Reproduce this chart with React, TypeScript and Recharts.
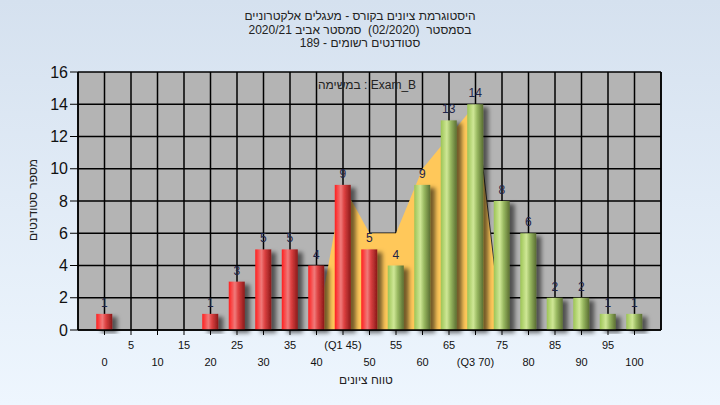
import React from "react";
import { ComposedChart, Bar, Area, XAxis, YAxis, CartesianGrid, LabelList } from "recharts";

const grades = [0, 5, 10, 15, 20, 25, 30, 35, 40, 45, 50, 55, 60, 65, 70, 75, 80, 85, 90, 95, 100];
const counts = [1, 0, 0, 0, 1, 3, 5, 5, 4, 9, 5, 4, 9, 13, 14, 8, 6, 2, 2, 1, 1];
const iqrOutline = [null, null, null, null, null, null, null, null, 0, 9, 6, 6, 10, 12, 14, 0, null, null, null, null, null];
const iqrEdge = [null, null, null, null, null, null, null, null, null, null, null, null, null, null, 14, 0, null, null, null, null, null];
const xTickLabels = ["0", "5", "10", "15", "20", "25", "30", "35", "40", "(Q1 45)", "50", "55", "60", "65", "(Q3 70)", "75", "80", "85", "90", "95", "100"];
const yTicks = [0, 2, 4, 6, 8, 10, 12, 14, 16];
const titleLines = [
  "היסטוגרמת ציונים בקורס - מעגלים אלקטרוניים",
  "בסמסטר  (02/2020)  סמסטר אביב 2020/21",
  "סטודנטים רשומים - 189",
];
const taskLabel = "במשימה : Exam_B";
const xAxisTitle = "טווח ציונים";
const yAxisTitle = "מספר סטודנטים";

const data = grades.map((g, i) => ({ grade: g, count: counts[i], outline: iqrOutline[i], edge: iqrEdge[i] }));

const FONT = "'Liberation Sans', Arial, sans-serif";

const XTick = (props: any) => {
  const { x, y, payload } = props;
  const idx = grades.indexOf(payload.value);
  const upper = idx % 2 === 1;
  return (
    <text x={x} y={y + (upper ? 12 : 29)} textAnchor="middle" fontSize={11} fill="#111" fontFamily={FONT}>
      {xTickLabels[idx]}
    </text>
  );
};

const BarShape = (props: any) => {
  const { x, y, width, height, payload } = props;
  if (!height || height <= 0) return null;
  const grad = payload.grade <= 50 ? "url(#redG)" : "url(#greenG)";
  return <rect x={x} y={y} width={width} height={height} fill={grad} filter="url(#barShadow)" />;
};

export default function App() {
  return (
    <div
      style={{
        position: "fixed",
        left: 0,
        top: 0,
        width: 720,
        height: 405,
        background: "linear-gradient(#d5e1ef, #eef6fe)",
        fontFamily: FONT,
      }}
    >
      <div style={{ position: "absolute", left: 0, top: 10, width: 720, textAlign: "center", fontSize: 12, lineHeight: "13.5px", color: "#222" }}>
        {titleLines.map((t, i) => (
          <div key={i} dir="rtl" style={{ whiteSpace: "pre" }}>{t}</div>
        ))}
      </div>
      <ComposedChart width={720} height={405} data={data} margin={{ top: 72, right: 0, bottom: 0, left: 0 }}>
        <defs>
          <linearGradient id="redG" x1="0" y1="0" x2="1" y2="0">
            <stop offset="0%" stopColor="#ff1e1e" />
            <stop offset="38%" stopColor="#f07a7a" />
            <stop offset="60%" stopColor="#dc4040" />
            <stop offset="100%" stopColor="#8a1a1a" />
          </linearGradient>
          <linearGradient id="greenG" x1="0" y1="0" x2="1" y2="0">
            <stop offset="0%" stopColor="#9cc455" />
            <stop offset="38%" stopColor="#cfe796" />
            <stop offset="62%" stopColor="#98b860" />
            <stop offset="100%" stopColor="#5a6e32" />
          </linearGradient>
          <filter id="barShadow" x="-50%" y="-20%" width="220%" height="140%">
            <feDropShadow dx="5" dy="3" stdDeviation="2" floodColor="#000" floodOpacity="0.55" />
          </filter>
        </defs>
        <CartesianGrid yAxisId="l" stroke="#000" strokeWidth={1.5} fill="#b4b4b4" fillOpacity={1} />
        <XAxis
          dataKey="grade"
          type="number"
          domain={[-5, 105]}
          ticks={grades}
          interval={0}
          height={75}
          tickSize={5}
          tick={<XTick />}
          axisLine={{ stroke: "#000", strokeWidth: 1.5 }}
          tickLine={{ stroke: "#000" }}
        />
        <YAxis
          yAxisId="l"
          domain={[0, 16]}
          ticks={yTicks}
          width={78}
          tickSize={8}
          tickMargin={2}
          axisLine={{ stroke: "#000", strokeWidth: 1.5 }}
          tickLine={{ stroke: "#000" }}
          tick={{ fill: "#111", fontSize: 16, fontFamily: "'Liberation Sans Narrow', 'Liberation Sans', Arial" }}
        />
        <YAxis
          yAxisId="r"
          orientation="right"
          domain={[0, 16]}
          ticks={yTicks}
          width={59}
          tickSize={8}
          tickMargin={2}
          axisLine={{ stroke: "#000", strokeWidth: 1.5 }}
          tickLine={{ stroke: "#000" }}
          tick={{ fill: "#111", fontSize: 16, fontFamily: "'Liberation Sans Narrow', 'Liberation Sans', Arial" }}
        />
        <Area
          yAxisId="l"
          dataKey="outline"
          type="linear"
          fill="#ffc85a"
          fillOpacity={1}
          stroke="none"
          connectNulls={false}
          isAnimationActive={false}
          dot={false}
          activeDot={false}
        />
        <Area
          yAxisId="l"
          dataKey="edge"
          type="linear"
          fill="none"
          stroke="#333"
          strokeWidth={1}
          dot={false}
          activeDot={false}
          connectNulls={false}
          isAnimationActive={false}
        />
        <Bar yAxisId="l" dataKey="count" barSize={16} shape={<BarShape />} isAnimationActive={false}>
          <LabelList
            dataKey="count"
            position="top"
            offset={7}
            formatter={(v: any) => (v === 0 ? "" : v)}
            style={{ fill: "#1e2448", fontSize: 12, fontFamily: FONT }}
          />
        </Bar>
      </ComposedChart>
      <div style={{ position: "absolute", left: 267, top: 78, width: 200, textAlign: "center", fontSize: 12, color: "#222" }}>
        {taskLabel}
      </div>
      <div dir="rtl" style={{ position: "absolute", left: 266, top: 373, width: 200, textAlign: "center", fontSize: 12, color: "#222" }}>
        {xAxisTitle}
      </div>
      <div
        dir="rtl"
        style={{
          position: "absolute",
          left: 33 - 60,
          top: 200 - 8,
          width: 120,
          height: 16,
          lineHeight: "16px",
          textAlign: "center",
          fontSize: 12,
          color: "#222",
          transform: "rotate(-90deg)",
        }}
      >
        {yAxisTitle}
      </div>
    </div>
  );
}
